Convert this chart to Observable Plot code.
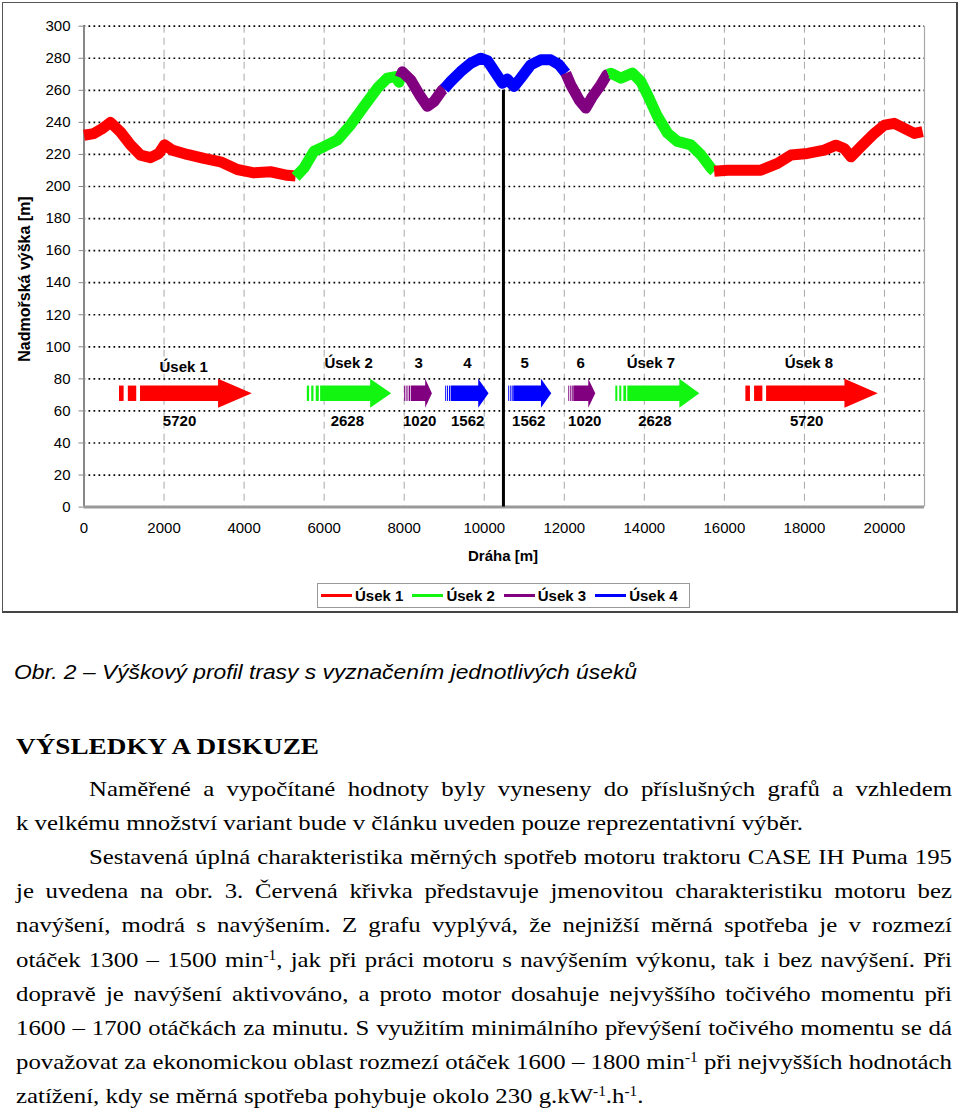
<!DOCTYPE html>
<html><head><meta charset="utf-8">
<script src="https://cdn.jsdelivr.net/npm/d3@7"></script>
<script src="https://cdn.jsdelivr.net/npm/@observablehq/plot@0.6"></script>
<style>
html,body{margin:0;padding:0;background:#fff;}
body{width:960px;height:1111px;position:relative;overflow:hidden;font-family:"Liberation Sans",Arial,sans-serif;color:#000;}
#frame{position:absolute;left:2px;top:2px;width:956px;height:611px;box-sizing:border-box;border:1px solid #555;border-right:2px solid #444;border-bottom:2px solid #444;}
#plot{position:absolute;left:0;top:0;}
.axt{position:absolute;font-weight:bold;font-size:15px;white-space:nowrap;}
#ylab{left:25px;top:279px;font-size:16px;transform:translate(-50%,-50%) rotate(-90deg);}
#xlab{left:503px;top:555px;transform:translate(-50%,-50%);}
#legend{position:absolute;left:317px;top:583px;width:373px;height:25px;box-sizing:border-box;border:1px solid #999;display:flex;align-items:center;padding-left:3px;}
.li{display:flex;align-items:center;margin-right:9px;font-weight:bold;font-size:15px;}
.li span.sw{display:inline-block;width:31px;height:3px;margin-right:3px;}
.tx{position:absolute;left:16px;white-space:nowrap;transform-origin:0 50%;}
#cap{font-family:"Liberation Sans",Arial,sans-serif;font-style:italic;font-size:20.5px;left:14px;top:660px;line-height:24px;}
#head{font-family:"Liberation Serif","Times New Roman",serif;font-weight:bold;font-size:24px;top:733px;line-height:26px;}
.ln{position:absolute;left:16px;font-family:"Liberation Serif","Times New Roman",serif;font-size:22px;line-height:34px;height:34px;transform-origin:0 50%;white-space:nowrap;}
.ln.j{text-align:justify;text-align-last:justify;white-space:normal;overflow:visible;}
sup{font-size:0.62em;vertical-align:0.55em;line-height:0;}
</style>
</head>
<body>
<div id="frame"></div>
<div id="plot"></div>
<div id="ylab" class="axt">Nadmořská výška [m]</div>
<div id="xlab" class="axt">Dráha [m]</div>
<div id="legend"></div>
<div id="cap" class="tx">Obr. 2 – Výškový profil trasy s vyznačením jednotlivých úseků</div>
<div id="head" class="tx">VÝSLEDKY A DISKUZE</div>
<div id="body"></div>
<script>
// ---------- data ----------
const sections = ["Úsek 1", "Úsek 2", "Úsek 3", "Úsek 4"];
const sectionColors = ["#ff0000", "#11f511", "#800080", "#0000ff"];
const xTicks = [0, 2000, 4000, 6000, 8000, 10000, 12000, 14000, 16000, 18000, 20000];
const yTicks = [0, 20, 40, 60, 80, 100, 120, 140, 160, 180, 200, 220, 240, 260, 280, 300];

// elevation profile [distance m, elevation m], one run per coloured stretch
const run1 = [[0,232],[245,233],[450,236],[662,240],[912,234],[1162,226],[1412,219.6],[1662,218],[1870,220.6],[2012,226],[2204,222.7],[2579,220],[2996,217.5],[3412,215.4],[3829,210.6],[4246,208.5],[4662,209.2],[5079,207],[5287,206.5]];
const run2 = [[5287,206],[5496,211.5],[5746,222],[6004,225],[6329,229],[6662,238.5],[6996,250],[7329,261.3],[7579,267.6],[7787,268.6],[7871,265],[7900,268]];
const run3 = [[7900,268],[7954,271.5],[8162,266.5],[8412,256],[8579,250],[8746,253],[8954,260.3],[9000,261]];
const run4 = [[9000,261],[9162,265.5],[9412,271.7],[9662,276.9],[9912,280],[10079,278.5],[10287,270.7],[10454,264.4],[10579,267],[10746,262.4],[10912,267.6],[11162,275.9],[11412,279],[11662,279],[11871,275.9],[12037,270.7]];
const run5 = [[12037,270.7],[12162,263.4],[12371,254],[12537,248.9],[12704,256.1],[12912,263.4],[13062,269.6],[13100,270]];
const run6 = [[13100,270],[13162,270.7],[13412,267.6],[13704,270.7],[13912,265.5],[14079,257.2],[14329,243.7],[14579,233.3],[14829,228.1],[15162,226],[15412,219.8],[15662,211.5],[15746,209.5]];
const run7 = [[15746,209.5],[16079,210.2],[16496,210.2],[16912,210.2],[17329,214.4],[17662,219.6],[18079,220.6],[18496,222.7],[18787,225.8],[18996,223.7],[19162,218.5],[19412,224.8],[19746,233.1],[19996,238.3],[20246,239.4],[20496,236.3],[20746,233.1],[20954,234.2]];
const runSection = ["Úsek 1", "Úsek 2", "Úsek 3", "Úsek 4", "Úsek 3", "Úsek 2", "Úsek 1"];

// route sections drawn as arrows
const segName = ["Úsek 1", "Úsek 2", "3", "4", "5", "6", "Úsek 7", "Úsek 8"];
const segLength = ["5720", "2628", "1020", "1562", "1562", "1020", "2628", "5720"];
const segSection = ["Úsek 1", "Úsek 2", "Úsek 3", "Úsek 4", "Úsek 4", "Úsek 3", "Úsek 2", "Úsek 1"];
const segStripeStart = [887, 5580, 8012, 9037, 10612, 12112, 13287, 16537];
const segBodyStart = [1412, 5912, 8180, 9180, 10737, 12237, 13587, 17055];
const segHeadStart = [3362, 7162, 8537, 9862, 11430, 12612, 14887, 19012];
const segTip = [4205, 7687, 8705, 10120, 11687, 12787, 15387, 19845];
const segNameX = [2490, 6612, 8362, 9580, 11012, 12412, 14162, 18112];
const segLengthX = [2387, 6580, 8387, 9587, 11112, 12512, 14262, 18055];
const segStripes = [2, 3, 3, 3, 3, 3, 3, 2];

// turning point marker
const markerDist = 10480;
const markerTop = 260;

// ---------- build ----------
const runs = [run1, run2, run3, run4, run5, run6, run7];
const profile = runs.flatMap((pts, i) => pts.map(([d, e]) => ({d, e, run: i, section: runSection[i]})));

const arrowY = 70.7, bodyHalf = 4.8, headHalf = 9;
const nameY = 89.5, nameY1 = 87.2, lengthY = 53.4;
const stripePatterns = {2: [[0, 0.22], [0.42, 0.82]], 3: [[0, 0.17], [0.33, 0.5], [0.67, 0.9]]};

const arrowRows = segName.flatMap((n, i) => [
  {x: segBodyStart[i], y1: arrowY - bodyHalf, y2: arrowY + bodyHalf, id: i, section: segSection[i]},
  {x: segHeadStart[i], y1: arrowY - bodyHalf, y2: arrowY + bodyHalf, id: i, section: segSection[i]},
  {x: segHeadStart[i], y1: arrowY - headHalf, y2: arrowY + headHalf, id: i, section: segSection[i]},
  {x: segTip[i], y1: arrowY, y2: arrowY, id: i, section: segSection[i]}
]);
const stripeRows = segName.flatMap((n, i) => {
  const a = segStripeStart[i], w = segBodyStart[i] - a;
  return stripePatterns[segStripes[i]].map(([f0, f1]) => ({x1: a + f0 * w, x2: a + f1 * w, y1: arrowY - bodyHalf, y2: arrowY + bodyHalf, section: segSection[i]}));
});
const nameRows = segName.map((n, i) => ({x: segNameX[i], y: i === 0 ? nameY1 : nameY, t: n}));
const lengthRows = segLength.map((n, i) => ({x: segLengthX[i], y: lengthY, t: n}));

const chart = Plot.plot({
  width: 960,
  height: 560,
  marginLeft: 83.5,
  marginRight: 36,
  marginTop: 25.7,
  marginBottom: 53.4,
  style: {fontFamily: "'Liberation Sans', Arial, sans-serif", fontSize: "15px", color: "#000", background: "transparent", overflow: "visible"},
  x: {domain: [0, 21000]},
  y: {domain: [0, 300]},
  color: {domain: sections, range: sectionColors},
  marks: [
    Plot.gridX(xTicks.slice(1), {stroke: "#a8a8a8", strokeOpacity: 1, strokeDasharray: "7,5"}),
    Plot.gridY(yTicks.slice(1), {stroke: "#000", strokeOpacity: 1, strokeWidth: 1.7, strokeDasharray: "1.7,3.3"}),
    Plot.ruleX([21000], {stroke: "#a8a8a8", strokeWidth: 1.2}),
    Plot.ruleX([0], {stroke: "#888", strokeWidth: 2}),
    Plot.ruleY([0], {stroke: "#999", strokeWidth: 3}),
    Plot.line(profile, {x: "d", y: "e", z: "run", stroke: "section", strokeWidth: 11, strokeLinejoin: "round", strokeLinecap: "butt"}),
    Plot.rect(stripeRows, {x1: "x1", x2: "x2", y1: "y1", y2: "y2", fill: "section"}),
    Plot.areaY(arrowRows, {x: "x", y1: "y1", y2: "y2", z: "id", fill: "section"}),
    Plot.text(nameRows, {x: "x", y: "y", text: "t", fontWeight: "bold", fontSize: 15}),
    Plot.text(lengthRows, {x: "x", y: "y", text: "t", fontWeight: "bold", fontSize: 15}),
    Plot.ruleX([markerDist], {y1: 0, y2: markerTop, stroke: "#000", strokeWidth: 3}),
    Plot.axisY(yTicks, {tickSize: 5, tickPadding: 8.5, label: null, stroke: "#888", tickFormat: d => String(d)}),
    Plot.axisX(xTicks, {tickSize: 0, tickPadding: 15, label: null, tickFormat: d => String(d)})
  ]
});
document.getElementById("plot").appendChild(chart);

// legend
const legend = document.getElementById("legend");
sections.forEach((s, i) => {
  const it = document.createElement("div");
  it.className = "li";
  it.innerHTML = `<span class="sw" style="background:${sectionColors[i]}"></span>${s}`;
  legend.appendChild(it);
});

// text below the chart
const bodyLines = [
  {t: "Naměřené a vypočítané hodnoty byly vyneseny do příslušných grafů a vzhledem", j: true, ind: true},
  {t: "k velkému množství variant bude v článku uveden pouze reprezentativní výběr.", j: false},
  {t: "Sestavená úplná charakteristika měrných spotřeb motoru traktoru CASE IH Puma 195", j: true, ind: true},
  {t: "je uvedena na obr. 3. Červená křivka představuje jmenovitou charakteristiku motoru bez", j: true},
  {t: "navýšení, modrá s navýšením. Z grafu vyplývá, že nejnižší měrná spotřeba je v rozmezí", j: true},
  {t: "otáček 1300 – 1500 min<sup>-1</sup>, jak při práci motoru s navýšením výkonu, tak i bez navýšení. Při", j: true},
  {t: "dopravě je navýšení aktivováno, a proto motor dosahuje nejvyššího točivého momentu při", j: true},
  {t: "1600 – 1700 otáčkách za minutu. S využitím minimálního převýšení točivého momentu se dá", j: true},
  {t: "považovat za ekonomickou oblast rozmezí otáček 1600 – 1800 min<sup>-1</sup> při nejvyšších hodnotách", j: true},
  {t: "zatížení, kdy se měrná spotřeba pohybuje okolo 230 g.kW<sup>-1</sup>.h<sup>-1</sup>.", j: false}
];
const bodyEl = document.getElementById("body");
// horizontal scale of the serif text, fitted on the unjustified second line
const probe = document.createElement("span");
probe.className = "ln";
probe.style.position = "absolute"; probe.style.visibility = "hidden";
probe.innerHTML = bodyLines[1].t;
document.body.appendChild(probe);
const sx = 787 / probe.getBoundingClientRect().width;
probe.remove();
bodyLines.forEach((L, i) => {
  const d = document.createElement("div");
  d.className = "ln" + (L.j ? " j" : "");
  d.innerHTML = L.t;
  d.style.top = (772 + i * 34.1) + "px";
  const indent = L.ind ? 73 : 0;
  d.style.left = (16 + indent) + "px";
  d.style.transform = `scaleX(${sx})`;
  if (L.j) d.style.width = ((936 - indent) / sx) + "px";
  bodyEl.appendChild(d);
});
function fit(id, w) {
  const el = document.getElementById(id);
  el.style.transform = `scaleX(${w / el.getBoundingClientRect().width})`;
}
fit("cap", 623);
fit("head", 303);
</script>
</body></html>
